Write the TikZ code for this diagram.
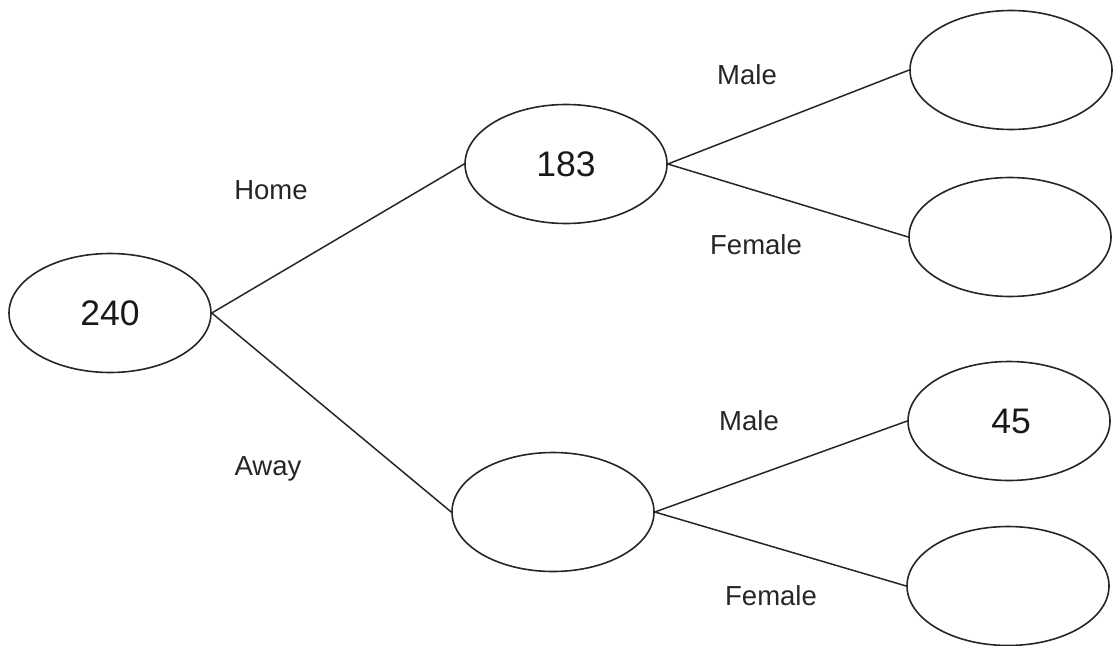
\documentclass[tikz,border=0pt]{standalone}
\usepackage{fontspec}
\setmainfont{Liberation Sans}
\usetikzlibrary{shapes.geometric}
\begin{document}
\begin{tikzpicture}[x=1pt,y=-1pt,
  oval/.style={draw=black!85,line width=1.6pt,ellipse,minimum width=202pt,minimum height=119pt,inner sep=0pt,font=\fontsize{35.5}{38}\selectfont,text=black!90},
  lbl/.style={font=\fontsize{27.5}{30}\selectfont,text=black!85},
  edge/.style={draw=black!85,line width=1.5pt}]
\useasboundingbox (0,0) rectangle (1113,645);
\node[oval] (a) at (110,313) {240};
\node[oval] (b) at (566,164) {183};
\node[oval] (c) at (553,512) {};
\node[oval] (d) at (1011,70) {};
\node[oval] (e) at (1010,237) {};
\node[oval] (f) at (1009,421) {\hspace*{4pt}45};
\node[oval] (g) at (1008,586) {};
\draw[edge] (a.east) -- (b.west);
\draw[edge] (a.east) -- (c.west);
\draw[edge] (b.east) -- (d.west);
\draw[edge] (b.east) -- (e.west);
\draw[edge] (c.east) -- (f.west);
\draw[edge] (c.east) -- (g.west);
\node[lbl] (home) at (271,190) {Home};
\node[lbl] (away) at (268,469) {Away};
\node[lbl] (m1) at (747,75) {Male};
\node[lbl] (f1) at (756,245) {Female};
\node[lbl] (m2) at (749,421) {Male};
\node[lbl] (f2) at (771,596) {Female};
\end{tikzpicture}
\end{document}
